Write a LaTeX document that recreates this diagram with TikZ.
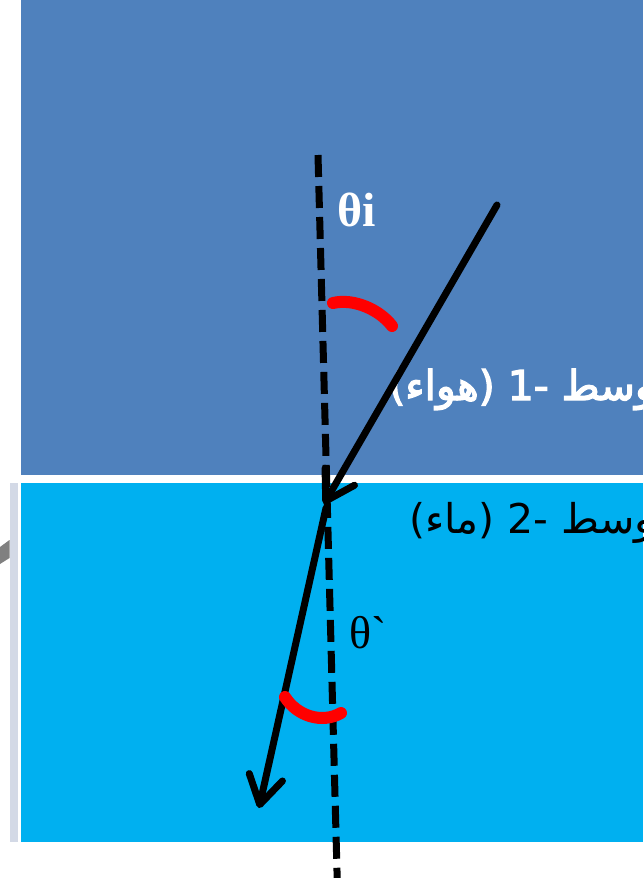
\documentclass[tikz,border=0pt]{standalone}
\usepackage{fontspec}
\newfontfamily\arabicfont[Script=Arabic]{DejaVu Sans}
\newfontfamily\arabicboldfont[Script=Arabic, FakeBold=3]{DejaVu Sans}
\newfontfamily\thetafont{Liberation Serif}
\usepackage{tikz}
\usetikzlibrary{arrows.meta, positioning}
\TeXXeTstate=1
\definecolor{airblue}{HTML}{4F81BD}
\definecolor{waterblue}{HTML}{00B0F0}
\definecolor{sidebar}{HTML}{D3D9E6}
\tikzset{
  normal_line/.style={line width=7pt, dash pattern=on 22pt off 9pt},
  ray/.style={line width=7pt, line cap=round, -{Straight Barb[round, length=28pt, width=34pt]}},
  angle_arc/.style={line width=12pt, red, line cap=round},
  medium_label/.style={anchor=base east, inner sep=0pt, font=\arabicfont\fontsize{41}{46}\selectfont},
  angle_label/.style={anchor=base west, inner sep=0pt, font=\thetafont\fontsize{46}{52}\selectfont}
}

\begin{document}
\begin{tikzpicture}[x=1pt, y=-1pt]

  % --- Page frame ---
  \clip (0,0) rectangle (643,878);
  \fill[white] (0,0) rectangle (643,878);

  % --- Media ---
  \fill[airblue] (21,0) rectangle (643,474.5);
  \fill[waterblue] (21,483) rectangle (643,842);
  \fill[sidebar] (10,483) rectangle (17.5,842);
  \fill[gray] (0,547) -- (9.5,540) -- (9.5,558) -- (0,564) -- cycle;

  % --- Labels (under the rays) ---
  \node[angle_label, text=white, font=\thetafont\bfseries\fontsize{48}{54}\selectfont] (theta_i) at (337,226) {θi};
  \node[angle_label] (theta_r) at (349,648) {θ`};
  \node[medium_label, text=white, font=\arabicboldfont\fontsize{41}{46}\selectfont] (medium_one) at (655,400) {\beginR وسط -1 (هواء)\endR};
  \node[medium_label] (medium_two) at (655,533) {\beginR وسط -2 (ماء)\endR};

  % --- Geometry ---
  \coordinate (normal_top) at (318,155);
  \coordinate (normal_bot) at (337.5,890);
  \coordinate (ray_src) at (497,205);
  \coordinate (hit) at (324,504);
  \coordinate (exit) at (326,508);
  \coordinate (ray_dst) at (259,808);

  % --- Normal and rays ---
  \draw[normal_line] (normal_top) -- (normal_bot);
  \draw[ray] (ray_src) -- (hit);
  \draw[ray] (exit) -- (ray_dst);

  % --- Angle arcs ---
  \draw[angle_arc] (333,303) .. controls (354,298) and (380,310) .. (392,326);
  \draw[angle_arc] (285,697) .. controls (297,716) and (322,724) .. (341,713);

\end{tikzpicture}
\end{document}
